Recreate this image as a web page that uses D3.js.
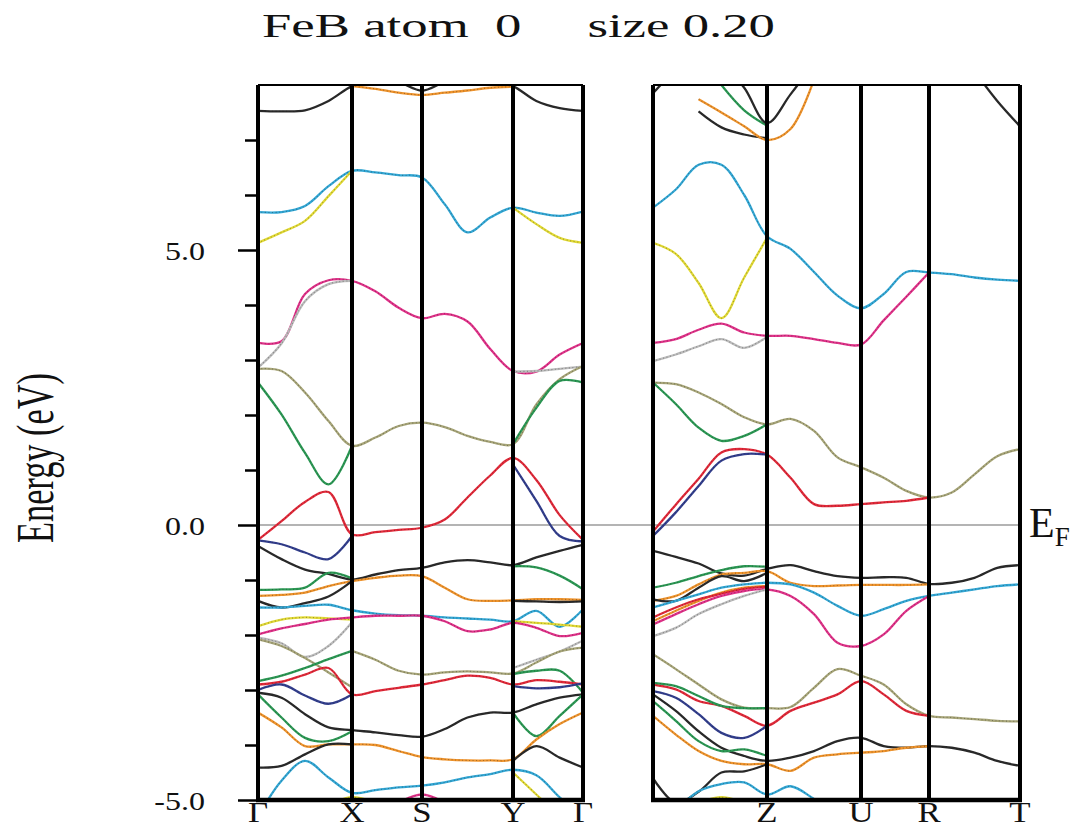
<!DOCTYPE html>
<html>
<head>
<meta charset="utf-8">
<script src="https://cdn.jsdelivr.net/npm/d3@7"></script>
<style>
  body { margin: 0; background: #fff; }
  text { font-family: "Liberation Serif", "DejaVu Serif", serif; fill: #111; }
</style>
</head>
<body>
<svg id="chart" width="1086" height="828"></svg>
<script>
const N = null;

// high-symmetry points as distance along the k-path
const leftTicks = [0, 94, 164, 255, 325];
const leftLabels = ["Γ", "X", "S", "Y", "Γ"];
const leftSteps = [4, 3, 4, 3];
const rightTicks = [0, 114, 208, 276, 367];
const rightLabels = ["", "Z", "U", "R", "T"];
const rightSteps = [5, 4, 3, 4];

const energyMajor = [-5, 0, 5];
const energyMinor = [-4, -3, -2, -1, 1, 2, 3, 4, 6, 7];

// bands, left panel (Γ-X-S-Y-Γ), energies in eV at the k grid
const leftNames = ["black", "orange", "cyan", "yellow", "magenta", "gray", "olive", "green", "red", "navy",
  "black", "green", "orange", "black", "cyan", "yellow", "magenta", "gray", "olive", "olive", "green",
  "red", "navy", "black", "green", "orange", "black", "cyan", "yellow", "magenta"];
const leftBands = [
  [7.53, 7.52, 7.54, 7.71, 7.98, 8.1, 8.05, 7.9, 8.05, 8.1, 8.1, 7.98, 7.71, 7.58, 7.53],
  [N, N, N, N, 7.98, 7.93, 7.86, 7.82, 7.86, 7.9, 7.95, 7.97, N, N, N],
  [5.69, 5.69, 5.80, 6.16, 6.44, 6.41, 6.36, 6.32, 5.83, 5.32, 5.59, 5.77, 5.68, 5.62, 5.70],
  [5.13, 5.32, 5.53, 5.98, 6.44, N, N, N, N, N, N, 5.77, 5.47, 5.22, 5.13],
  [3.31, 3.34, 4.2, 4.45, 4.44, 4.25, 3.95, 3.76, 3.84, 3.7, 3.2, 2.8, 2.79, 3.1, 3.31],
  [2.86, 3.3, 4.07, 4.38, 4.44, N, N, N, N, N, N, 2.79, 2.8, 2.84, 2.88],
  [2.84, 2.8, 2.41, 1.89, 1.44, 1.59, 1.8, 1.86, 1.78, 1.62, 1.51, 1.47, 2.19, 2.65, 2.89],
  [2.59, 2.01, 1.31, 0.74, 1.44, N, N, N, N, N, N, 1.47, 2.13, 2.62, 2.59],
  [-0.27, 0.07, 0.42, 0.6, -0.17, -0.13, -0.09, -0.05, 0.1, 0.5, 0.9, 1.22, 0.82, 0.18, -0.27],
  [-0.28, -0.35, -0.5, -0.62, -0.2, N, N, N, N, N, N, 1.1, 0.44, -0.2, -0.3],
  [-0.38, -0.62, -0.81, -0.89, -0.99, -0.9, -0.82, -0.78, -0.68, -0.64, -0.68, -0.73, -0.59, -0.47, -0.36],
  [-1.18, -1.17, -1.14, -0.87, -0.97, N, N, N, N, N, N, -0.75, -0.77, -0.92, -1.17],
  [-1.29, -1.27, -1.23, -1.11, -1.02, -0.96, -0.92, -0.93, -1.14, -1.35, -1.38, -1.37, -1.35, -1.35, -1.36],
  [-1.38, -1.5, -1.42, -1.3, -1.02, N, N, N, N, N, N, -1.38, -1.39, -1.4, -1.39],
  [-1.5, -1.5, -1.47, -1.45, -1.55, -1.61, -1.64, -1.65, -1.68, -1.7, -1.72, -1.75, -1.56, -1.85, -1.53],
  [-1.84, -1.72, -1.68, -1.7, -1.72, N, N, N, N, N, N, -1.75, -1.78, -1.81, -1.85],
  [-1.99, -1.88, -1.8, -1.72, -1.68, -1.65, -1.65, -1.65, -1.75, -1.93, -1.9, -1.78, -1.87, -2.02, -1.96],
  [-2.05, -2.15, -2.4, -2.2, -1.77, N, N, N, N, N, N, -2.6, -2.45, -2.3, -2.1],
  [-2.08, -2.2, -2.42, -2.68, -2.95, N, N, N, N, N, N, N, N, N, N],
  [N, N, N, N, -2.29, -2.45, -2.65, -2.72, -2.68, -2.66, -2.68, -2.7, -2.5, -2.3, -2.23],
  [-2.84, -2.74, -2.6, -2.44, -2.29, N, N, N, N, N, N, -2.71, -2.65, -2.65, -3.05],
  [-2.9, -2.85, -2.72, -2.6, -3.08, -3.02, -2.96, -2.9, -2.82, -2.74, -2.78, -2.9, -2.82, -2.85, -2.9],
  [-3.0, -2.9, -3.1, -3.25, -3.08, N, N, N, N, N, N, -2.93, -2.97, -2.95, -2.88],
  [-3.05, -3.14, -3.44, -3.68, -3.73, -3.77, -3.82, -3.85, -3.71, -3.5, -3.41, -3.41, -3.26, -3.14, -3.08],
  [-3.08, -3.5, -3.87, -3.93, -3.75, N, N, N, N, N, N, -3.41, -3.84, -3.47, -3.08],
  [-3.41, -3.68, -4.02, -3.99, -3.99, -4.0, -4.11, -4.22, -4.26, -4.28, -4.28, -4.26, -3.9, -3.62, -3.41],
  [-4.41, -4.38, -4.17, -3.99, -3.99, N, N, N, N, N, N, -4.29, -4.02, -4.23, -4.41],
  [-5.3, -4.65, -4.29, -4.59, -4.87, -4.82, -4.77, -4.74, -4.68, -4.59, -4.53, -4.45, -4.55, -4.95, -5.3],
  [N, N, N, -5.1, -4.95, -5.05, N, N, N, N, N, -4.5, -4.9, -5.3, N],
  [N, N, N, N, N, N, -5.05, -4.9, -5.05, N, N, N, N, N, N]
];

// bands, right panel (..-Z-U-R-T)
const rightNames = ["black", "black", "orange", "green", "black", "black", "cyan", "yellow", "magenta", "gray",
  "olive", "green", "red", "navy", "black", "green", "orange", "black", "cyan", "orange",
  "red", "magenta", "gray", "olive", "red", "green", "navy", "black", "green", "orange",
  "black", "cyan", "yellow"];
const rightBands = [
  [7.85, 8.3, N, N, N, N, N, N, N, N, N, N, N, N, N, N, N],
  [N, N, 7.52, 7.23, 7.1, 7.03, N, N, N, N, N, N, N, N, N, N, N],
  [N, N, 7.74, 7.5, 7.25, 7.0, 7.2, 8.1, N, N, N, N, N, N, N, N, N],
  [N, N, N, 8.0, 7.54, 7.26, N, N, N, N, N, N, N, N, N, N, N],
  [N, N, N, 8.4, 7.95, 7.31, 7.83, 8.4, N, N, N, N, N, N, N, N, N],
  [N, N, N, N, N, N, N, N, N, N, N, N, N, N, 8.25, 7.71, 7.25],
  [5.77, 6.1, 6.55, 6.55, 6.0, 5.25, 5.02, 4.6, 4.17, 3.94, 4.2, 4.6, 4.59, 4.56, 4.5, 4.46, 4.44],
  [5.13, 4.93, 4.4, 3.76, 4.5, 5.22, N, N, N, N, N, N, N, N, N, N, N],
  [3.31, 3.38, 3.55, 3.66, 3.5, 3.44, 3.44, 3.38, 3.31, 3.28, 3.72, 4.15, 4.59, N, N, N, N],
  [2.98, 3.1, 3.25, 3.38, 3.22, 3.42, N, N, N, N, N, N, N, N, N, N, N],
  [2.59, 2.56, 2.41, 2.2, 1.96, 1.83, 1.93, 1.71, 1.23, 1.05, 0.86, 0.62, 0.5, 0.59, 0.92, 1.25, 1.38],
  [2.59, 2.2, 1.77, 1.53, 1.62, 1.83, N, N, N, N, N, N, N, N, N, N, N],
  [-0.12, 0.37, 0.84, 1.32, 1.38, 1.28, 0.86, 0.38, 0.35, 0.38, 0.41, 0.44, 0.5, N, N, N, N],
  [-0.2, 0.23, 0.71, 1.17, 1.29, 1.28, N, N, N, N, N, N, N, N, N, N, N],
  [-0.47, -0.58, -0.7, -0.88, -0.92, -0.8, -0.73, -0.84, -0.93, -0.96, -0.95, -0.96, -1.07, -1.05, -0.96, -0.78, -0.73],
  [-1.14, -1.05, -0.93, -0.82, -0.75, -0.76, N, N, N, N, N, N, N, N, N, N, N],
  [-1.38, -1.29, -1.08, -0.9, -0.87, -0.84, -1.05, -1.11, -1.1, -1.09, -1.09, -1.09, -1.08, N, N, N, N],
  [-1.35, -1.38, -1.14, -0.93, -1.02, -0.87, N, N, N, N, N, N, N, N, N, N, N],
  [-1.5, -1.38, -1.26, -1.14, -1.08, -1.05, -1.08, -1.23, -1.47, -1.65, -1.53, -1.38, -1.29, -1.23, -1.17, -1.11, -1.08],
  [-1.75, -1.56, -1.38, -1.23, -1.14, -1.11, N, N, N, N, N, N, N, N, N, N, N],
  [-1.68, -1.5, -1.35, -1.25, -1.16, -1.12, N, N, N, N, N, N, N, N, N, N, N],
  [-1.81, -1.62, -1.44, -1.29, -1.2, -1.17, -1.29, -1.62, -2.14, -2.2, -1.99, -1.56, -1.29, N, N, N, N],
  [-2.02, -1.87, -1.62, -1.44, -1.29, -1.17, N, N, N, N, N, N, N, N, N, N, N],
  [-2.35, -2.62, -2.9, -3.17, -3.32, -3.33, -3.31, -2.96, -2.62, -2.74, -2.9, -3.26, -3.47, -3.5, -3.53, -3.56, -3.57],
  [-2.9, -2.99, -3.2, -3.29, -3.47, -3.65, -3.38, -3.23, -3.08, -2.84, -3.08, -3.38, -3.47, N, N, N, N],
  [-2.87, -2.93, -3.11, -3.29, -3.33, -3.33, N, N, N, N, N, N, N, N, N, N, N],
  [-3.02, -3.14, -3.44, -3.78, -3.87, -3.65, N, N, N, N, N, N, N, N, N, N, N],
  [-3.08, -3.38, -3.75, -4.05, -4.2, -4.29, -4.23, -4.11, -3.93, -3.87, -4.02, -4.05, -4.02, -4.05, -4.14, -4.29, -4.38],
  [-3.2, -3.56, -3.93, -4.11, -4.08, -4.2, N, N, N, N, N, N, N, N, N, N, N],
  [-3.47, -3.81, -4.11, -4.29, -4.35, -4.35, -4.47, -4.23, -4.17, -4.14, -4.11, -4.05, -4.02, N, N, N, N],
  [-4.6, -5.05, -4.85, -4.5, -4.48, -4.35, N, N, N, N, N, N, N, N, N, N, N],
  [N, -5.2, -4.84, -4.71, -4.68, -4.9, -4.75, -4.98, -5.25, N, N, N, N, N, N, N, N],
  [N, N, -5.05, -4.95, -5.05, N, N, N, N, N, N, N, N, N, N, N, N]
];

const palette = {
  black: "#2a2a2a", cyan: "#33a8d6", yellow: "#e2da35", magenta: "#e2328a", gray: "#bcbcbc",
  olive: "#a8a679", green: "#2c9a55", red: "#e42a3a", navy: "#333f8f", orange: "#f0942c"
};

// k grid: each segment divided into equal steps
function kGrid(ticks, steps) {
  const g = [ticks[0]];
  steps.forEach((n, i) => {
    for (let j = 1; j <= n; j++) g.push(ticks[i] + j * (ticks[i + 1] - ticks[i]) / n);
  });
  return g;
}

const svg = d3.select("#chart");
const y = d3.scaleLinear().domain([-5, 8]).range([800, 85]);

const panels = [
  { id: "L", ticks: leftTicks, labels: leftLabels, grid: kGrid(leftTicks, leftSteps), names: leftNames, bands: leftBands,
    x: d3.scaleLinear().domain([0, 325]).range([258, 583]) },
  { id: "R", ticks: rightTicks, labels: rightLabels, grid: kGrid(rightTicks, rightSteps), names: rightNames, bands: rightBands,
    x: d3.scaleLinear().domain([0, 367]).range([653, 1020]) }
];

// Fermi level
svg.append("line")
  .attr("x1", panels[0].x.range()[0]).attr("x2", panels[1].x.range()[1] + 2)
  .attr("y1", y(0)).attr("y2", y(0))
  .attr("stroke", "#b4b4b4").attr("stroke-width", 2);

panels.forEach(p => {
  const [x0, x1] = p.x.range();
  svg.append("clipPath").attr("id", "clip" + p.id)
    .append("rect").attr("x", x0).attr("y", y(8)).attr("width", x1 - x0).attr("height", y(-5) - y(8));

  const line = d3.line()
    .defined(d => d[1] != null)
    .x(d => p.x(d[0]))
    .y(d => y(d[1]))
    .curve(d3.curveCatmullRom.alpha(0.5));

  const g = svg.append("g").attr("clip-path", `url(#clip${p.id})`);
  p.bands.forEach((e, i) => {
    const pts = p.grid.map((k, j) => [k, e[j]]);
    g.append("path").attr("d", line(pts))
      .attr("fill", "none").attr("stroke", palette[p.names[i]])
      .attr("stroke-width", 2.3).attr("stroke-linejoin", "round");
    g.append("path").attr("d", line(pts))
      .attr("fill", "none").attr("stroke", "#1a1a1a").attr("stroke-opacity", 0.35)
      .attr("stroke-width", 1.1).attr("stroke-dasharray", "1 2.5");
  });

  // frame
  svg.append("line").attr("x1", x0).attr("x2", x1).attr("y1", y(8)).attr("y2", y(8))
    .attr("stroke", "#000").attr("stroke-width", 2);
  svg.append("line").attr("x1", x0 - 2).attr("x2", x1 + 2).attr("y1", y(-5)).attr("y2", y(-5))
    .attr("stroke", "#000").attr("stroke-width", 4.5);
  svg.selectAll(null).data(p.ticks).enter().append("line")
    .attr("x1", d => p.x(d)).attr("x2", d => p.x(d))
    .attr("y1", y(8)).attr("y2", y(-5))
    .attr("stroke", "#000").attr("stroke-width", 4);

  // k-point labels
  svg.selectAll(null).data(p.ticks).enter().append("text")
    .attr("x", d => p.x(d)).attr("y", 822)
    .attr("text-anchor", "middle").attr("font-size", 29)
    .text((d, i) => p.labels[i])
    .each(function () {
      const w = this.getComputedTextLength();
      if (w > 0) d3.select(this).attr("textLength", w * 1.2).attr("lengthAdjust", "spacingAndGlyphs");
    });
});

// energy axis
const axisX = panels[0].x.range()[0];
const major = svg.append("g").attr("transform", `translate(${axisX},0)`)
  .call(d3.axisLeft(y).tickValues(energyMajor).tickSize(20).tickPadding(33).tickFormat(d => d.toFixed(1)));
major.select(".domain").remove();
major.selectAll("line").attr("stroke", "#000").attr("stroke-width", 2.5);
major.selectAll("text").attr("font-size", 25).attr("font-family", "Liberation Serif, serif").attr("fill", "#111")
  .attr("dy", "0.36em")
  .each(function () {
    d3.select(this).attr("textLength", this.getComputedTextLength() * 1.28).attr("lengthAdjust", "spacingAndGlyphs");
  });

const minor = svg.append("g").attr("transform", `translate(${axisX - 2},0)`)
  .call(d3.axisLeft(y).tickValues(energyMinor).tickSize(11).tickFormat(""));
minor.select(".domain").remove();
minor.selectAll("line").attr("stroke", "#000").attr("stroke-width", 2.5);

// texts
svg.append("text").attr("x", 262).attr("y", 37).attr("font-size", 33)
  .attr("textLength", 513).attr("lengthAdjust", "spacingAndGlyphs")
  .attr("xml:space", "preserve")
  .text("FeB atom  0     size 0.20");

svg.append("text").attr("transform", "translate(53,458) rotate(-90)")
  .attr("text-anchor", "middle").attr("font-size", 52)
  .attr("textLength", 170).attr("lengthAdjust", "spacingAndGlyphs")
  .text("Energy (eV)");

const ef = svg.append("text").attr("x", 1029).attr("y", 537).attr("font-size", 42);
ef.append("tspan").text("E");
ef.append("tspan").attr("font-size", 27).attr("dy", 9).text("F");
</script>
</body>
</html>
